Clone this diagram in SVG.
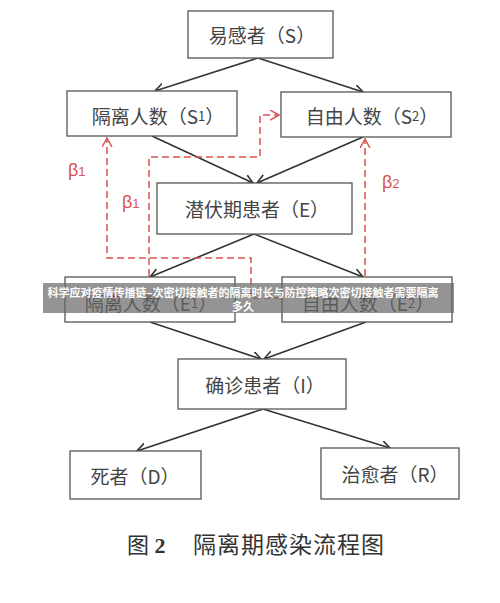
<svg xmlns="http://www.w3.org/2000/svg" width="500" height="603" viewBox="0 0 500 603">
<defs>
<style>
.box{fill:#fff;stroke:#555;stroke-width:1.3}
.t{font-family:"Noto Sans CJK SC","Liberation Sans",sans-serif;font-size:19px;fill:#444;text-anchor:middle;dominant-baseline:central}
.sub{font-size:13px}
.e{fill:none;stroke:#333;stroke-width:1.6}
.r{fill:none;stroke:#d9534f;stroke-width:1.5;stroke-dasharray:7 4}
.b{font-family:"Liberation Sans",sans-serif;font-size:18px;fill:#d9534f}
.bs{font-size:13px}
</style>
<marker id="ak" markerUnits="userSpaceOnUse" markerWidth="12" markerHeight="12" refX="9" refY="5" orient="auto"><path d="M0,0 L9,5 L0,10" fill="none" stroke="#333" stroke-width="1.6"/></marker>
<marker id="ar" markerUnits="userSpaceOnUse" markerWidth="12" markerHeight="12" refX="9" refY="5" orient="auto"><path d="M0,0 L9,5 L0,10" fill="none" stroke="#d9534f" stroke-width="1.5"/></marker>
</defs>
<rect width="500" height="603" fill="#fff"/>
<g id="connectors">
<path class="e" d="M258,58 L155,91" marker-end="url(#ak)"/>
<path class="e" d="M258,58 L363,92" marker-end="url(#ak)"/>
<path class="e" d="M152,136 L253,183" marker-end="url(#ak)"/>
<path class="e" d="M363,137 L257,183" marker-end="url(#ak)"/>
<path class="e" d="M254,234 L150,277" marker-end="url(#ak)"/>
<path class="e" d="M254,234 L363,277" marker-end="url(#ak)"/>
<path class="e" d="M150,322 L261,359" marker-end="url(#ak)"/>
<path class="e" d="M366,322 L264,359" marker-end="url(#ak)"/>
<path class="e" d="M263,409 L137,451" marker-end="url(#ak)"/>
<path class="e" d="M263,409 L390,448" marker-end="url(#ak)"/>
<path class="r" d="M282,298 H251 V258 H107 V138" marker-end="url(#ar)"/>
<path class="r" d="M149,276 V157 H260 V115 H279" marker-end="url(#ar)"/>
<path class="r" d="M365,276 V139" marker-end="url(#ar)"/>
<text class="b" x="68" y="176">β<tspan class="bs">1</tspan></text>
<text class="b" x="122" y="208">β<tspan class="bs">1</tspan></text>
<text class="b" x="382" y="188">β<tspan class="bs">2</tspan></text>
</g>
<g id="S"><rect class="box" x="188" y="11" width="145" height="47"/><text class="t" x="262" y="34">易感者（S）</text></g>
<g id="S1"><rect class="box" x="67" y="91" width="170" height="45"/><text class="t" x="158" y="115">隔离人数（S<tspan class="sub">1</tspan>）</text></g>
<g id="S2"><rect class="box" x="281" y="92" width="170" height="45"/><text class="t" x="372" y="115">自由人数（S<tspan class="sub">2</tspan>）</text></g>
<g id="E"><rect class="box" x="157" y="183" width="195" height="51"/><text class="t" x="257" y="208">潜伏期患者（E）</text></g>
<g id="E1"><rect class="box" x="65" y="277" width="170" height="45"/><text class="t" x="151" y="302">隔离人数（E<tspan class="sub">1</tspan>）</text></g>
<g id="E2"><rect class="box" x="282" y="277" width="170" height="45"/><text class="t" x="368" y="302">自由人数（E<tspan class="sub">2</tspan>）</text></g>
<g id="I"><rect class="box" x="178" y="359" width="168" height="50"/><text class="t" x="265" y="384">确诊患者（I）</text></g>
<g id="D"><rect class="box" x="70" y="451" width="131" height="48"/><text class="t" x="135" y="475">死者（D）</text></g>
<g id="R"><rect class="box" x="321" y="448" width="138" height="51"/><text class="t" x="395" y="473">治愈者（R）</text></g>
<g id="caption">
<text x="127" y="553" font-family="'Liberation Serif','Noto Sans CJK SC',serif" font-size="22" fill="#333">图 <tspan font-weight="bold">2</tspan></text>
<text x="193" y="553" font-family="'Liberation Serif','Noto Sans CJK SC',serif" font-size="23" letter-spacing="1" fill="#333">隔离期感染流程图</text>
</g>
<g id="banner">
<rect x="43" y="283" width="411" height="30" fill="#666" fill-opacity="0.7"/>
<text x="243" y="297" font-family="'Noto Sans CJK SC',sans-serif" font-size="11" font-weight="bold" fill="#fff" text-anchor="middle">科学应对疫情传播链–次密切接触者的隔离时长与防控策略次密切接触者需要隔离</text>
<text x="243" y="311" font-family="'Noto Sans CJK SC',sans-serif" font-size="11" font-weight="bold" fill="#fff" text-anchor="middle">多久</text>
</g>
</svg>
